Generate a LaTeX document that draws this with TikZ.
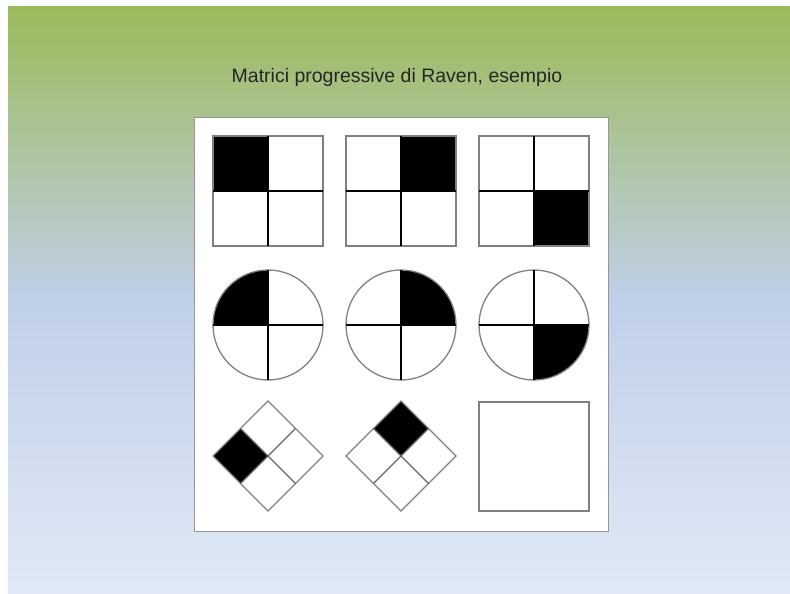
\documentclass[tikz,border=0pt]{standalone}
\usepackage{fontspec}
\setmainfont{Liberation Sans}
\definecolor{bgtop}{RGB}{155,187,89}
\definecolor{bgmid}{RGB}{192,207,233}
\definecolor{bglow}{RGB}{224,233,245}
\definecolor{edgegray}{RGB}{128,128,128}
\definecolor{panelgray}{RGB}{150,150,150}
\begin{document}
\begin{tikzpicture}[x=1pt,y=-1pt,
  outer/.style={draw=edgegray,line width=1.3pt},
  inner/.style={draw=black,line width=1.3pt},
  dline/.style={draw=edgegray!80!black,line width=1.3pt}]
\useasboundingbox (0,0) rectangle (790,594);
\fill[white] (0,0) rectangle (790,594);
\shade[top color=bgtop,bottom color=bgmid] (8,7) rectangle (790,300);
\shade[top color=bgmid,bottom color=bglow] (8,299.5) rectangle (790,594);
% title
\node[text=black!85,font=\fontsize{19.5}{22}\selectfont] (title) at (397,77) {Matrici progressive di Raven, esempio};
% panel
\draw[fill=white,draw=panelgray,line width=1pt] (194,117) rectangle (608,531);
% row 1: squares
\fill (213,136) rectangle (268,191);
\draw[outer] (213,136) rectangle (323,246);
\draw[inner] (268,136)--(268,246) (213,191)--(323,191);
\fill (401,136) rectangle (456,191);
\draw[outer] (346,136) rectangle (456,246);
\draw[inner] (401,136)--(401,246) (346,191)--(456,191);
\fill (534,191) rectangle (589,246);
\draw[outer] (479,136) rectangle (589,246);
\draw[inner] (534,136)--(534,246) (479,191)--(589,191);
% row 2: circles
\fill (268,325) -- ++(180:55) arc[start angle=180,end angle=270,radius=55] -- cycle;
\draw[outer] (268,325) circle[radius=55];
\draw[inner] (268,270)--(268,380) (213,325)--(323,325);
\fill (401,325) -- ++(270:55) arc[start angle=270,end angle=360,radius=55] -- cycle;
\draw[outer] (401,325) circle[radius=55];
\draw[inner] (401,270)--(401,380) (346,325)--(456,325);
\fill (534,325) -- ++(0:55) arc[start angle=0,end angle=90,radius=55] -- cycle;
\draw[outer] (534,325) circle[radius=55];
\draw[inner] (534,270)--(534,380) (479,325)--(589,325);
% row 3: diamonds
\fill (213,456) -- (240.5,428.5) -- (268,456) -- (240.5,483.5) -- cycle;
\draw[outer] (268,401) -- (323,456) -- (268,511) -- (213,456) -- cycle;
\draw[dline] (240.5,428.5)--(295.5,483.5) (295.5,428.5)--(240.5,483.5);
\fill (401,401) -- (428.5,428.5) -- (401,456) -- (373.5,428.5) -- cycle;
\draw[outer] (401,401) -- (456,456) -- (401,511) -- (346,456) -- cycle;
\draw[dline] (373.5,428.5)--(428.5,483.5) (428.5,428.5)--(373.5,483.5);
% empty answer square
\draw[outer] (479,402) rectangle (589,511);
\end{tikzpicture}
\end{document}
